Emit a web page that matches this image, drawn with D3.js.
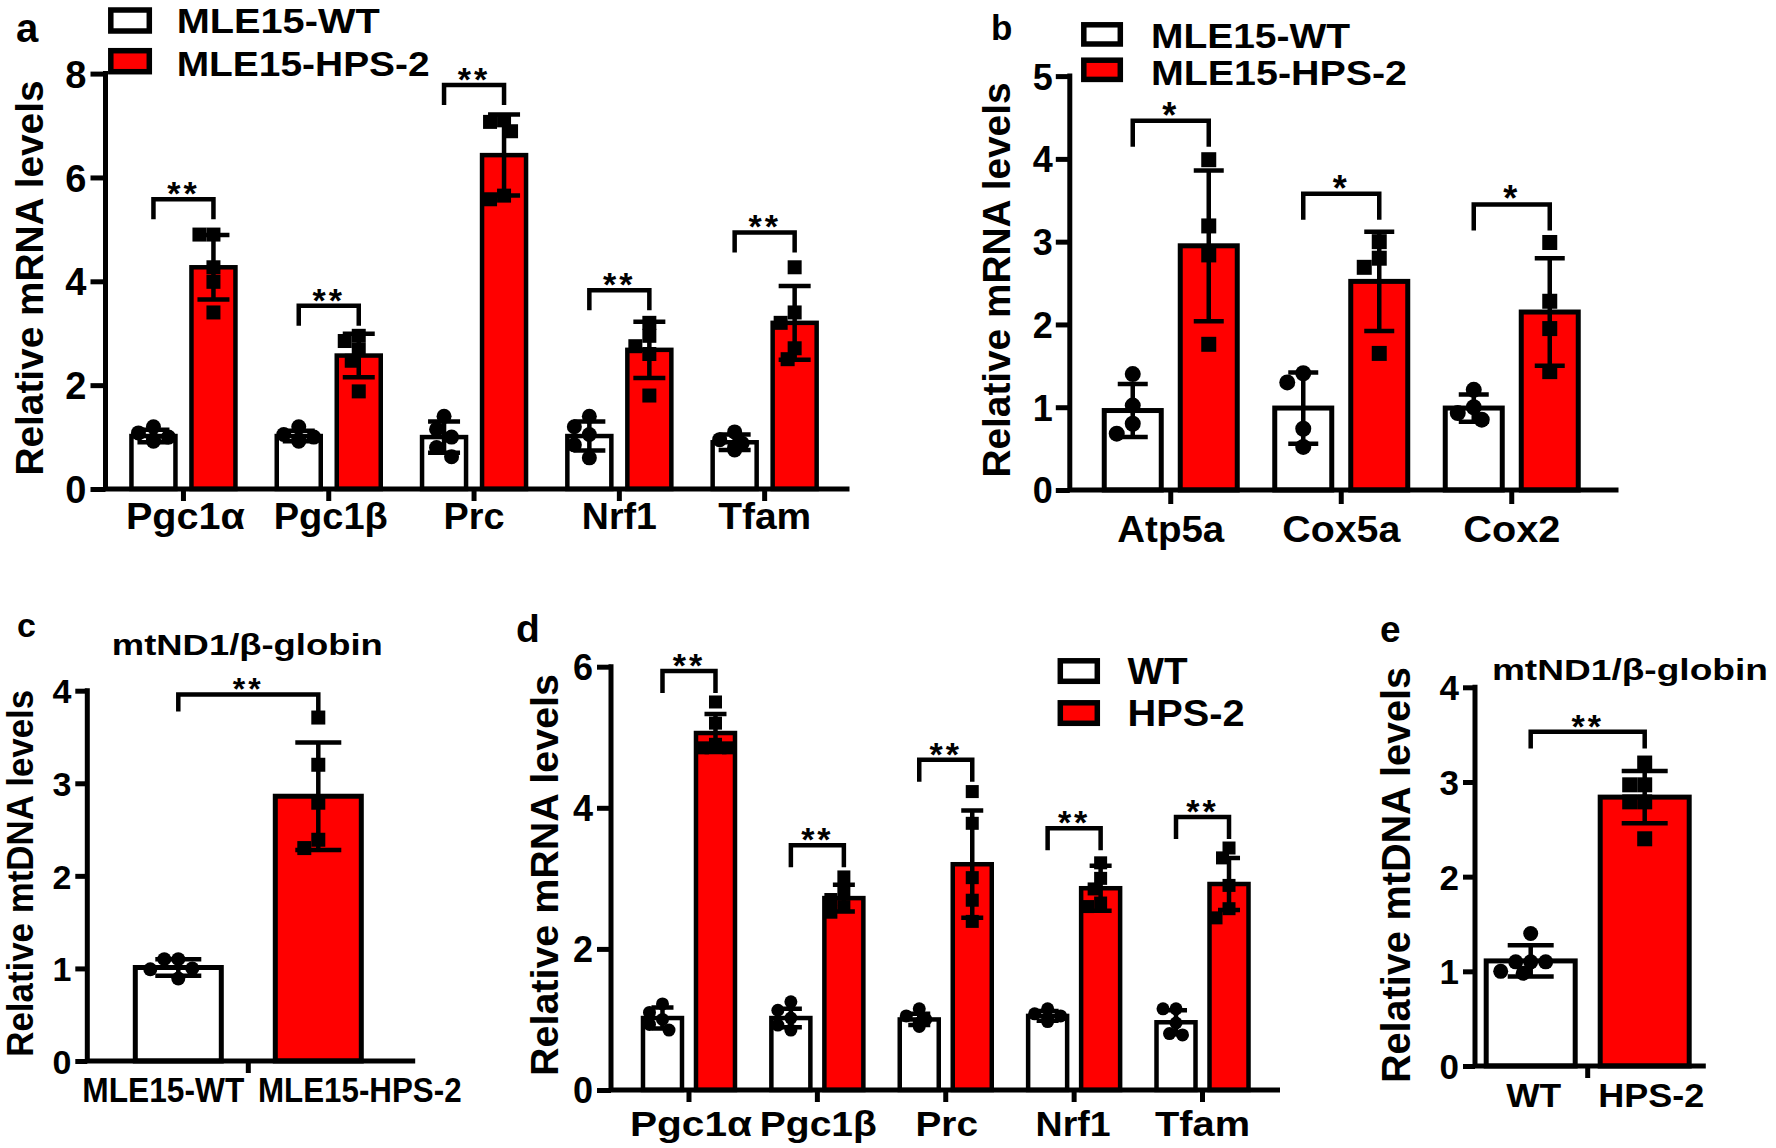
<!DOCTYPE html>
<html><head><meta charset="utf-8">
<script src="https://cdn.jsdelivr.net/npm/d3@7"></script>
<style>
body{margin:0;background:#fff}
text{font-family:"Liberation Sans",Arial,Helvetica,sans-serif;font-weight:bold;fill:#000}
</style>
</head><body>
<svg id="fig" width="1776" height="1148"></svg>
<script>
// ---------------- DATA ----------------
// Panel a
const a_categories = ["Pgc1α","Pgc1β","Prc","Nrf1","Tfam"];
const a_series = ["MLE15-WT","MLE15-HPS-2"];
const a_wt_mean = [1.02, 1.02, 1.0, 1.02, 0.9];
const a_wt_sd = [0.12, 0.1, 0.3, 0.28, 0.15];
const a_wt_points = [[1.2,1.08,1.0,0.95,0.92],[1.2,1.05,1.0,0.95,0.92],[1.4,1.15,1.0,0.8,0.62],[1.4,1.2,1.05,0.85,0.6],[1.1,0.95,0.88,0.8,0.75]];
const a_hps_mean = [4.27, 2.57, 6.43, 2.68, 3.2];
const a_hps_sd = [0.62, 0.42, 0.78, 0.54, 0.71];
const a_hps_points = [[4.9,4.9,4.27,3.99,3.4],[2.95,2.85,2.68,2.47,1.88],[7.1,7.07,6.89,5.65,5.58],[3.2,2.95,2.75,2.6,1.8],[4.27,3.4,3.2,2.71,2.5]];
const a_sig_y = [5.58, 3.53, 7.78, 3.83, 4.94];
const a_sig_label = ["**","**","**","**","**"];
const a_yticks = [0,2,4,6,8];

// Panel b
const b_categories = ["Atp5a","Cox5a","Cox2"];
const b_series = ["MLE15-WT","MLE15-HPS-2"];
const b_wt_mean = [0.96, 0.99, 0.99];
const b_wt_sd = [0.32, 0.43, 0.165];
const b_wt_points = [[1.4,1.02,0.8,0.68],[1.41,1.3,0.74,0.52],[1.21,1.0,0.93,0.85]];
const b_hps_mean = [2.95, 2.52, 2.15];
const b_hps_sd = [0.91, 0.6, 0.65];
const b_hps_points = [[3.99,3.19,2.84,1.76],[3.0,2.8,2.69,1.65],[2.99,2.28,1.95,1.43]];
const b_sig_y = [4.46, 3.58, 3.45];
const b_sig_label = ["*","*","*"];
const b_yticks = [0,1,2,3,4,5];

// Panel c
const c_title = "mtND1/β-globin";
const c_series = ["MLE15-WT","MLE15-HPS-2"];
const c_mean = [1.01, 2.86];
const c_sd = [0.09, 0.58];
const c_points = [[1.1,1.1,1.0,0.99,0.89],[3.71,3.2,2.79,2.39,2.3]];
const c_sig_y = [3.96];
const c_sig_label = ["**"];
const c_yticks = [0,1,2,3,4];

// Panel d
const d_categories = ["Pgc1α","Pgc1β","Prc","Nrf1","Tfam"];
const d_series = ["WT","HPS-2"];
const d_wt_mean = [1.02, 1.02, 1.0, 1.05, 0.96];
const d_wt_sd = [0.15, 0.13, 0.08, 0.07, 0.17];
const d_wt_points = [[1.22,1.1,1.0,0.93,0.85],[1.25,1.13,1.02,0.92,0.85],[1.15,1.05,1.0,0.95,0.9],[1.15,1.08,1.05,1.0,0.97],[1.15,1.15,0.95,0.8,0.78]];
const d_hps_mean = [5.06, 2.72, 3.2, 2.86, 2.92];
const d_hps_sd = [0.27, 0.19, 0.76, 0.32, 0.37];
const d_hps_points = [[5.5,5.2,4.9,4.85,4.85],[3.02,2.8,2.7,2.6,2.52],[4.23,3.78,3.01,2.69,2.39],[3.22,3.0,2.85,2.65,2.6],[3.43,3.29,2.9,2.57,2.44]];
const d_sig_y = [5.94, 3.47, 4.68, 3.71, 3.87];
const d_sig_label = ["**","**","**","**","**"];
const d_yticks = [0,2,4,6];

// Panel e
const e_title = "mtND1/β-globin";
const e_series = ["WT","HPS-2"];
const e_mean = [1.11, 2.84];
const e_sd = [0.165, 0.275];
const e_points = [[1.4,1.1,1.1,1.1,1.0,0.98],[3.2,2.97,2.97,2.79,2.79,2.4]];
const e_sig_y = [3.53];
const e_sig_label = ["**"];
const e_yticks = [0,1,2,3,4];

const yLabelMRNA = "Relative mRNA levels";
const yLabelMtDNA = "Relative mtDNA levels";

// ---------------- DRAWING ----------------
const RED = "#ff0000";
const svg = d3.select("#fig");

function txt(g, s, x, y, fs, opt = {}) {
  const t = g.append("text").attr("x", x).attr("y", y).attr("font-size", fs)
    .attr("text-anchor", opt.anchor || "middle").text(s);
  if (opt.weight) t.attr("font-weight", opt.weight);
  if (opt.ls) t.attr("letter-spacing", opt.ls);
  if (opt.rotate) t.attr("transform", `rotate(-90,${x},${y})`);
  const L = t.node().getComputedTextLength();
  const w = opt.w || (opt.sx ? L * opt.sx : null);
  if (w) t.attr("textLength", w).attr("lengthAdjust", "spacingAndGlyphs");
  return t;
}

function swarm(vals, y, size, maxOff) {
  const placed = [];
  return vals.map(v => {
    const py = y(v);
    let best = 0;
    const cands = [0];
    for (let k = 1; k <= 8; k++) cands.push(-k * size * 0.5, k * size * 0.5);
    for (const dx of cands) {
      if (Math.abs(dx) > maxOff) continue;
      if (placed.every(p => Math.hypot(p[0] - dx, p[1] - py) >= size * 0.9)) { best = dx; break; }
    }
    placed.push([best, py]);
    return best;
  });
}

function drawPanel(P) {
  const g = svg.append("g");
  const y = d3.scaleLinear().domain([0, P.ymax]).range([P.y0, P.yTop]);
  const xg = d3.scaleBand().domain(P.cats).range(P.xr);
  const xs = d3.scalePoint().domain(P.series).range([-P.off, P.off]);
  const cx = (ci, si) => xg(P.cats[ci]) + xg.bandwidth() / 2 + xs(P.series[si]);

  // bars
  P.means.forEach((arr, si) => arr.forEach((m, ci) => {
    g.append("rect").attr("x", cx(ci, si) - P.bw / 2).attr("y", y(m))
      .attr("width", P.bw).attr("height", y(0) - y(m))
      .attr("fill", si ? RED : "#fff").attr("stroke", "#000").attr("stroke-width", P.sw);
  }));

  // error bars
  P.means.forEach((arr, si) => arr.forEach((m, ci) => {
    const x = cx(ci, si), sd = P.sds[si][ci], cw = P.capW / 2;
    const yt = y(m + sd), yb = y(m - sd);
    g.append("path")
      .attr("d", `M${x},${yb}V${yt}M${x - cw},${yt}H${x + cw}M${x - cw},${yb}H${x + cw}`)
      .attr("stroke", "#000").attr("stroke-width", 4.5).attr("fill", "none");
  }));

  // points
  P.points.forEach((arr, si) => arr.forEach((pts, ci) => {
    const offs = swarm(pts, y, si ? P.sq : P.r * 2, P.bw / 2 - 4);
    pts.forEach((v, k) => {
      const x = cx(ci, si) + offs[k], py = y(v);
      if (si === 0) g.append("circle").attr("cx", x).attr("cy", py).attr("r", P.r).attr("fill", "#000");
      else g.append("rect").attr("x", x - P.sq / 2).attr("y", py - P.sq / 2)
        .attr("width", P.sq).attr("height", P.sq).attr("fill", "#000");
    });
  }));

  // significance brackets
  P.sigY.forEach((sv, ci) => {
    const xl = cx(ci, 0), xr = cx(ci, 1), yt = y(sv);
    g.append("path").attr("d", `M${xl},${yt + P.leg}V${yt}H${xr}V${yt + P.leg}`)
      .attr("stroke", "#000").attr("stroke-width", 4.5).attr("fill", "none");
    txt(g, P.sigLabel[ci], (xl + xr) / 2, yt + P.starDy, P.starFs, { ls: 3 });
  });

  // y axis
  const ya = d3.axisLeft(y).tickValues(P.ticks).tickSize(P.tickLen).tickSizeOuter(0)
    .tickPadding(P.tickPad).tickFormat(d3.format("d"));
  const yG = g.append("g").attr("transform", `translate(${P.axX},0)`).call(ya);
  yG.select(".domain").remove();
  yG.attr("font-family", null).attr("font-size", null);
  yG.selectAll("line").attr("stroke-width", 5);
  yG.selectAll("text").attr("font-size", P.tickFs).attr("dy", "0.36em");

  // x axis ticks
  const xa = d3.axisBottom(xg).tickSize(P.xTickLen).tickSizeOuter(0).tickFormat("");
  const xG = g.append("g").attr("transform", `translate(0,${P.y0})`).call(xa);
  xG.select(".domain").remove();
  xG.selectAll("line").attr("stroke-width", 5);

  g.append("path").attr("d", `M${P.axX},${y(P.ymax)}V${P.y0}H${P.xEnd}`)
    .attr("stroke", "#000").attr("stroke-width", 5).attr("fill", "none")
    .attr("stroke-linecap", "square");

  // category labels
  if (P.barLabels) {
    P.series.forEach((s, si) => txt(g, s, cx(0, si) + P.barLabels.dx[si], P.labelY, P.labelFs, { w: P.barLabels.w[si] }));
  } else {
    P.cats.forEach((c, ci) => txt(g, c, xg(c) + xg.bandwidth() / 2 + (P.labelDx ? P.labelDx[ci] : 0), P.labelY, P.labelFs, { w: P.labelW[ci] }));
  }

  // y label
  txt(g, P.yLabel, P.yLab.x, P.yLab.y, P.yLab.fs, { rotate: true, w: P.yLab.w });

  // legend
  if (P.legend) {
    const L = P.legend;
    P.series.forEach((s, si) => {
      g.append("rect").attr("x", L.x).attr("y", L.ys[si]).attr("width", L.w).attr("height", L.h)
        .attr("fill", si ? RED : "#fff").attr("stroke", "#000").attr("stroke-width", 5.5);
      txt(g, s, L.tx, L.tb[si], L.fs, { anchor: "start", w: L.tw[si] });
    });
  }
  if (P.title) txt(g, P.title.text, P.title.x, P.title.y, P.title.fs, { w: P.title.w });
  txt(g, P.letter.t, P.letter.x, P.letter.y, P.letter.fs, { anchor: "start" });
}

// Panel a
drawPanel({
  cats: a_categories, series: a_series,
  means: [a_wt_mean, a_hps_mean], sds: [a_wt_sd, a_hps_sd], points: [a_wt_points, a_hps_points],
  sigY: a_sig_y, sigLabel: a_sig_label, ticks: a_yticks,
  ymax: 8, y0: 489, yTop: 73.6, axX: 105.5, xEnd: 847, xr: [110.8, 837.3],
  off: 30, bw: 44, sw: 4.5, capW: 32, r: 7.5, sq: 14, leg: 20, starFs: 34, starDy: 6,
  tickLen: 15, tickPad: 4, tickFs: 38, xTickLen: 12,
  labelY: 529, labelFs: 36, labelW: [119, 114, 61, 75, 93], labelDx: [2, 2, 0, 0, 0],
  yLabel: yLabelMRNA, yLab: { x: 43.3, y: 278, fs: 39, w: 395 },
  legend: { x: 110.8, ys: [10, 50.7], w: 38.5, h: 21, tx: 176.7, tb: [33.3, 76], fs: 35, tw: [203, 253] },
  letter: { t: "a", x: 16, y: 42, fs: 40 }
});

// Panel b
drawPanel({
  cats: b_categories, series: b_series,
  means: [b_wt_mean, b_hps_mean], sds: [b_wt_sd, b_hps_sd], points: [b_wt_points, b_hps_points],
  sigY: b_sig_y, sigLabel: b_sig_label, ticks: b_yticks,
  ymax: 5, y0: 490, yTop: 76.1, axX: 1069.8, xEnd: 1616, xr: [1085.5, 1597],
  off: 38, bw: 57, sw: 5, capW: 30, r: 8, sq: 15, leg: 26, starFs: 36, starDy: 7,
  tickLen: 14, tickPad: 3, tickFs: 36, xTickLen: 14,
  labelY: 542, labelFs: 36, labelW: [107, 118, 97],
  yLabel: yLabelMRNA, yLab: { x: 1010, y: 280, fs: 39, w: 395 },
  legend: { x: 1083.8, ys: [24.8, 60.2], w: 36.5, h: 19.2, tx: 1151, tb: [48, 85.4], fs: 34.5, tw: [199, 256] },
  letter: { t: "b", x: 991, y: 39.5, fs: 35 }
});

// Panel c
drawPanel({
  cats: [""], series: c_series,
  means: [[c_mean[0]], [c_mean[1]]], sds: [[c_sd[0]], [c_sd[1]]], points: [[c_points[0]], [c_points[1]]],
  sigY: c_sig_y, sigLabel: c_sig_label, ticks: c_yticks,
  ymax: 4, y0: 1061, yTop: 690.7, axX: 87.3, xEnd: 412.7, xr: [148.3, 348.3],
  off: 70, bw: 86, sw: 5, capW: 46, r: 7, sq: 14, leg: 17, starFs: 32, starDy: 6,
  tickLen: 12, tickPad: 4, tickFs: 34, xTickLen: 12,
  labelY: 1101.7, labelFs: 35, barLabels: { dx: [-15, 41.5], w: [162, 203.5] },
  yLabel: yLabelMtDNA, yLab: { x: 33.3, y: 873.3, fs: 37, w: 367 },
  title: { text: c_title, x: 247.3, y: 655, fs: 30, w: 271 },
  letter: { t: "c", x: 17, y: 637.3, fs: 34 }
});

// Panel d
drawPanel({
  cats: d_categories, series: d_series,
  means: [d_wt_mean, d_hps_mean], sds: [d_wt_sd, d_hps_sd], points: [d_wt_points, d_hps_points],
  sigY: d_sig_y, sigLabel: d_sig_label, ticks: d_yticks,
  ymax: 6, y0: 1090, yTop: 666.7, axX: 611, xEnd: 1277.5, xr: [624.8, 1266.7],
  off: 26.5, bw: 39, sw: 4.5, capW: 22, r: 6.5, sq: 13, leg: 22, starFs: 34, starDy: 6,
  tickLen: 14, tickPad: 4, tickFs: 36, xTickLen: 12,
  labelY: 1136, labelFs: 35, labelW: [122, 117, 62.5, 75, 95], labelDx: [2, 1, 1, -1, 0],
  yLabel: yLabelMRNA, yLab: { x: 557.5, y: 875, fs: 38, w: 402 },
  legend: { x: 1060.3, ys: [660.8, 702.8], w: 37, h: 20.5, tx: 1127.5, tb: [684, 726], fs: 36, tw: [60, 117] },
  letter: { t: "d", x: 516, y: 642, fs: 39 }
});

// Panel e
drawPanel({
  cats: [""], series: e_series,
  means: [[e_mean[0]], [e_mean[1]]], sds: [[e_sd[0]], [e_sd[1]]], points: [[e_points[0]], [e_points[1]]],
  sigY: e_sig_y, sigLabel: e_sig_label, ticks: e_yticks,
  ymax: 4, y0: 1066, yTop: 687.3, axX: 1475, xEnd: 1703.3, xr: [1487.7, 1687.7],
  off: 57, bw: 89, sw: 5, capW: 46, r: 7.5, sq: 15, leg: 16.6, starFs: 34, starDy: 6,
  tickLen: 12, tickPad: 4, tickFs: 35, xTickLen: 12,
  labelY: 1106.7, labelFs: 33, barLabels: { dx: [3, 6.5], w: [55, 106] },
  yLabel: yLabelMtDNA, yLab: { x: 1410, y: 875, fs: 40, w: 416 },
  title: { text: e_title, x: 1629.9, y: 680, fs: 29, w: 276 },
  letter: { t: "e", x: 1380, y: 642, fs: 37 }
});
</script>
</body></html>
